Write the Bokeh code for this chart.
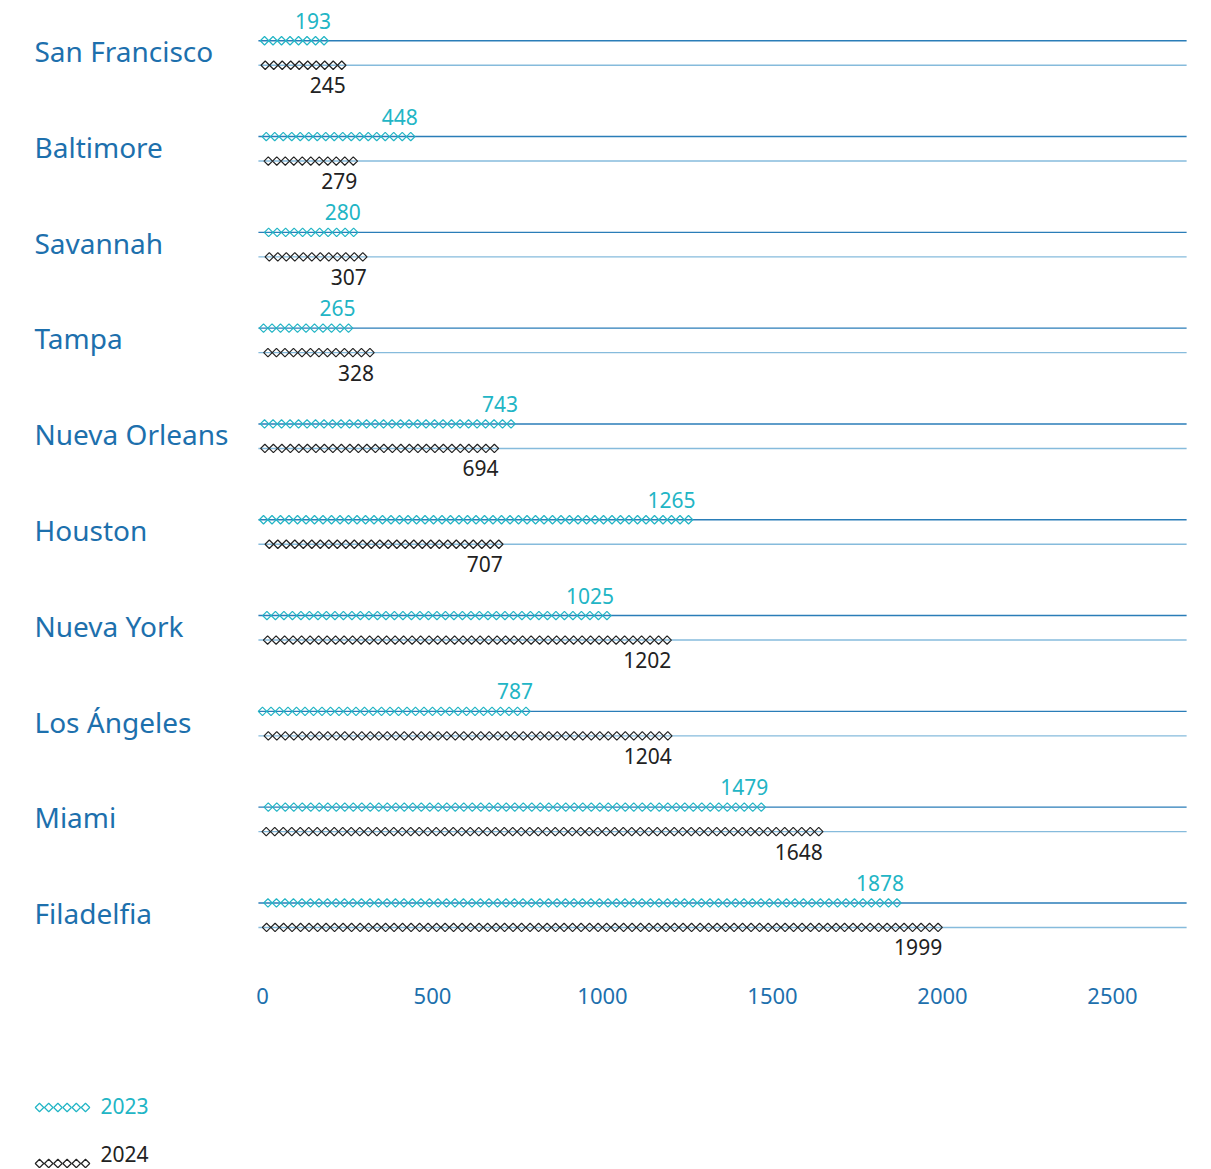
import numpy as np
from bokeh.plotting import figure
from bokeh.models import Range1d, FixedTicker
from bokeh.layouts import column
from bokeh.embed import file_html
from bokeh.resources import INLINE
from bokeh.core.properties import value

# ---- data ----
cities = ["San Francisco", "Baltimore", "Savannah", "Tampa", "Nueva Orleans",
          "Houston", "Nueva York", "Los Ángeles", "Miami", "Filadelfia"]
v2023 = [193, 448, 280, 265, 743, 1265, 1025, 787, 1479, 1878]
v2024 = [245, 279, 307, 328, 694, 707, 1202, 1204, 1648, 1999]
tick_values = [0, 500, 1000, 1500, 2000, 2500]
years = ["2023", "2024"]

# ---- style / layout ----
FONT = "Noto Sans"
C_CITY = "#1d70ad"
C_TEAL = "#22b5c5"
C_DARK = "#222222"
C_LINE23 = "#2a7db8"
C_LINE24 = "#86bbdc"
W = 1205
H_MAIN = 1040
H_LEG = 128
PX_PER_UNIT = 0.34
X0_PX = 262          # frame pixel where 0 sits
ROW_PX = 95.8
MID0_PX = 52.5
FRAME_H = 975
GAP = 12.25 / ROW_PX
STEP = 25            # units per diamond
LINE_START = -12
LINE_END = 2718

x_range = Range1d(-X0_PX / PX_PER_UNIT, (W - X0_PX) / PX_PER_UNIT)
y_range = Range1d(-(FRAME_H - MID0_PX) / ROW_PX, MID0_PX / ROW_PX)

p = figure(width=W, height=H_MAIN, x_range=x_range, y_range=y_range,
           output_backend="svg", toolbar_location=None,
           min_border_left=0, min_border_right=0, min_border_top=0,
           min_border_bottom=H_MAIN - FRAME_H, y_axis_location=None)
p.outline_line_color = None
p.xgrid.visible = False
p.ygrid.visible = False
p.background_fill_color = "white"
p.border_fill_color = "white"

mid = [-i for i in range(len(cities))]
y23 = [m + GAP for m in mid]
y24 = [m - GAP for m in mid]

# row lines
p.segment(x0=[LINE_START] * len(cities), x1=[LINE_END] * len(cities), y0=y23, y1=y23,
          line_color=C_LINE23, line_width=1.4)
p.segment(x0=[LINE_START] * len(cities), x1=[LINE_END] * len(cities), y0=y24, y1=y24,
          line_color=C_LINE24, line_width=1.4)

def diamonds(vals, ys):
    xs, yy = [], []
    for v, y in zip(vals, ys):
        pts = np.arange(v - 12, -1e-9, -STEP)
        xs.extend(pts.tolist())
        yy.extend([y] * len(pts))
    return xs, yy

dx, dy = diamonds(v2023, y23)
p.scatter(dx, dy, marker="square", angle=np.pi / 4, size=6, fill_color=None,
          line_color=C_TEAL, line_width=1.2)
dx, dy = diamonds(v2024, y24)
p.scatter(dx, dy, marker="square", angle=np.pi / 4, size=6, fill_color=None,
          line_color=C_DARK, line_width=1.2)

# value labels
p.text(x=v2023, y=y23, text=[str(v) for v in v2023], text_align="right",
       text_baseline="alphabetic", x_offset=3, y_offset=-20,
       text_color=C_TEAL, text_font_size="21px", text_font=value(FONT))
p.text(x=v2024, y=y24, text=[str(v) for v in v2024], text_align="right",
       text_baseline="alphabetic", x_offset=0, y_offset=20,
       text_color=C_DARK, text_font_size="21px", text_font=value(FONT))

# city labels
p.text(x=[0] * len(cities), y=mid, text=cities, x_offset=-228, y_offset=-2,
       text_align="left", text_baseline="middle",
       text_color=C_CITY, text_font_size="28px", text_font=value(FONT))

ax = p.xaxis[0]
ax.ticker = FixedTicker(ticks=tick_values)
ax.axis_line_color = None
ax.major_tick_line_color = None
ax.minor_tick_line_color = None
ax.major_label_standoff = 6
ax.major_label_text_font_size = "22px"
ax.major_label_text_font = FONT
ax.major_label_text_color = C_CITY

# ---- legend figure ----
lg = figure(width=W, height=H_LEG, x_range=Range1d(0, W), y_range=Range1d(H_LEG, 0),
            output_backend="svg", toolbar_location=None,
            min_border_left=0, min_border_right=0, min_border_top=0, min_border_bottom=0,
            x_axis_location=None, y_axis_location=None)
lg.outline_line_color = None
lg.xgrid.visible = False
lg.ygrid.visible = False

leg_x = (39 + 9.2 * np.arange(6)).tolist()
lg.scatter(leg_x, [67] * 6, marker="square", angle=np.pi / 4, size=6, fill_color=None,
           line_color=C_TEAL, line_width=1.2)
lg.scatter(leg_x, [123] * 6, marker="square", angle=np.pi / 4, size=6, fill_color=None,
           line_color=C_DARK, line_width=1.2)
lg.text(x=[100, 100], y=[65, 113], text=years, text_align="left", text_baseline="middle",
        text_color=[C_TEAL, C_DARK], text_font_size="21px", text_font=value(FONT))

layout = column(p, lg, spacing=0)
open("out.html", "w").write(file_html(layout, INLINE))
